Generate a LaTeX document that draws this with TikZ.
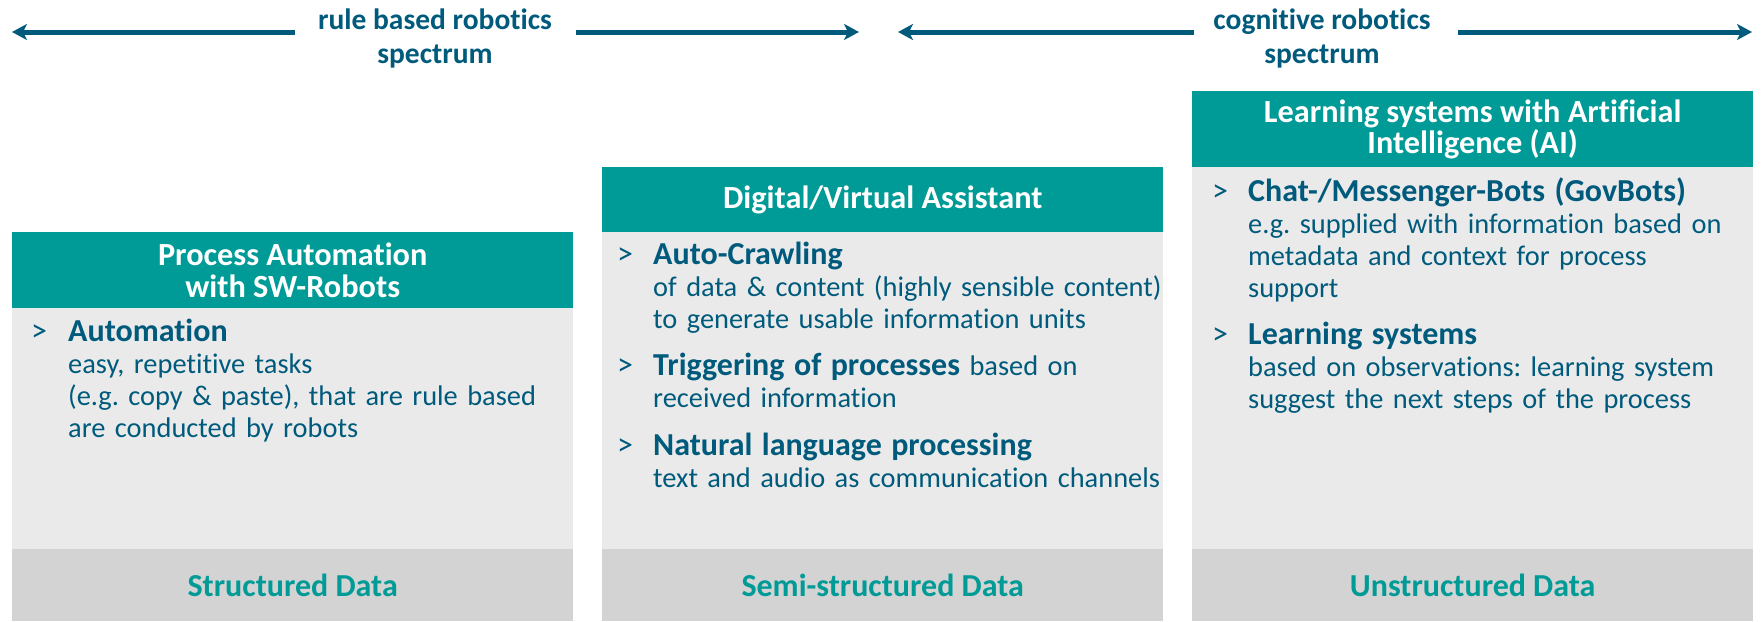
\documentclass[tikz,border=0pt]{standalone}
\usepackage{fontspec}
\setmainfont{Carlito}[Ligatures=NoCommon]
\frenchspacing
\usetikzlibrary{arrows.meta}
\definecolor{hdrteal}{RGB}{0,155,150}
\definecolor{bodygray}{RGB}{234,234,234}
\definecolor{footgray}{RGB}{211,211,211}
\definecolor{navy}{RGB}{0,90,124}
\newcommand{\bh}[1]{{\fontsize{32}{32}\selectfont\bfseries #1}}
\tikzset{
  hdr/.style={fill=hdrteal, text=white, font=\fontsize{32.3}{31.5}\selectfont\bfseries, align=center, minimum width=561pt, anchor=north west, inner sep=0pt},
  bodybox/.style={fill=bodygray, minimum width=561pt, anchor=north west, inner sep=0pt},
  foot/.style={fill=footgray, text=hdrteal, font=\fontsize{32}{32}\selectfont\bfseries, minimum width=561pt, minimum height=72pt, anchor=north west, inner sep=0pt},
  btext/.style={text=navy, font=\fontsize{28.4}{32}\selectfont, text width=530pt, align=left, anchor=base west, inner sep=0pt},
  bmark/.style={text=navy, font=\fontsize{32}{32}\selectfont, anchor=base west, inner sep=0pt},
  spec/.style={text=navy, font=\fontsize{29.5}{34}\selectfont\bfseries, align=center, inner sep=0pt},
  spectrum/.style={draw=navy, line width=5pt, -{Stealth[length=15pt,width=16pt,inset=4pt]}}
}
\begin{document}
\begin{tikzpicture}[x=1pt,y=-1pt]
\useasboundingbox (0,0) rectangle (1761,621);
% spectrum arrows
\coordinate (a1l) at (12,32);  \coordinate (a1r) at (295,32);
\coordinate (a2l) at (576,32); \coordinate (a2r) at (859,32);
\coordinate (a3l) at (898,32); \coordinate (a3r) at (1194,32);
\coordinate (a4l) at (1458,32);\coordinate (a4r) at (1752,32);
\draw[spectrum] (a1r) -- (a1l);
\draw[spectrum] (a2l) -- (a2r);
\draw[spectrum] (a3r) -- (a3l);
\draw[spectrum] (a4l) -- (a4r);
\node[spec] (lab1) at (435,38) {rule based robotics\\spectrum};
\node[spec] (lab2) at (1322,38) {cognitive robotics\\spectrum};
% column 1
\node[hdr, minimum height=76pt] (h1) at (12,232) {Process Automation\\with SW-Robots};
\node[bodybox, minimum height=241pt] (b1) at (12,308) {};
\node[foot] (f1) at (12,549) {Structured Data};
\node[bmark] (m11) at (31,341.5) {>};
\node[btext] (t11) at (68,341.5) {\bh{Automation}\\
easy, repetitive tasks\\
(e.g. copy \& paste), that are rule based\\
are conducted by robots};
% column 2
\node[hdr, minimum height=65pt] (h2) at (602,167) {Digital/Virtual Assistant};
\node[bodybox, minimum height=317pt] (b2) at (602,232) {};
\node[foot] (f2) at (602,549) {Semi-structured Data};
\node[bmark] (m21) at (617,264) {>};
\node[btext] (t21) at (653,264) {\bh{Auto-Crawling}\\
of data \& content (highly sensible content)\\
to generate usable information units};
\node[bmark] (m22) at (617,375.5) {>};
\node[btext] (t22) at (653,375.5) {\bh{Triggering of processes} based on\\
received information};
\node[bmark] (m23) at (617,455) {>};
\node[btext] (t23) at (653,455) {\bh{Natural language processing}\\
text and audio as communication channels};
% column 3
\node[hdr, minimum height=76pt] (h3) at (1192,91) {Learning systems with Artificial\\Intelligence (AI)};
\node[bodybox, minimum height=382pt] (b3) at (1192,167) {};
\node[foot] (f3) at (1192,549) {Unstructured Data};
\node[bmark] (m31) at (1212,201) {>};
\node[btext] (t31) at (1248,201) {\bh{Chat-/Messenger-Bots (GovBots)}\\
e.g. supplied with information based on\\
metadata and context for process\\
support};
\node[bmark] (m32) at (1212,344.5) {>};
\node[btext] (t32) at (1248,344.5) {\bh{Learning systems}\\
based on observations: learning system\\
suggest the next steps of the process};
\end{tikzpicture}
\end{document}
